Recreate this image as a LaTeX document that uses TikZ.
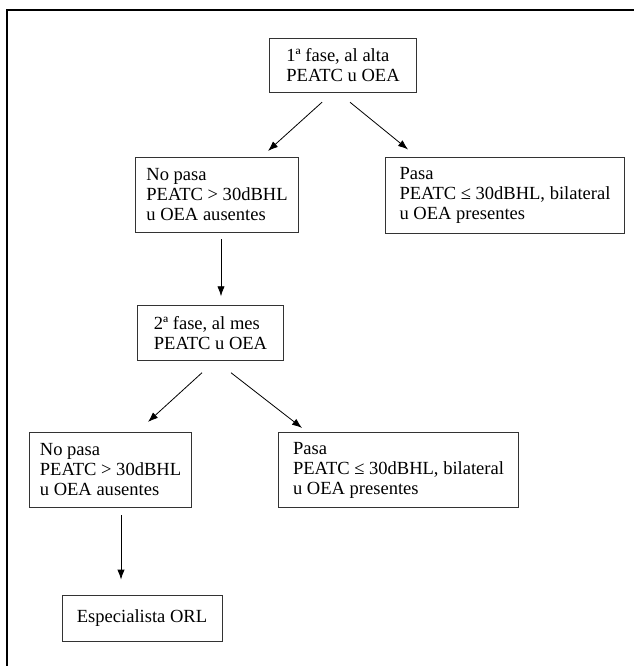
\documentclass[tikz,border=0pt]{standalone}
\usepackage{fontspec}
\setmainfont{Liberation Serif}
\usetikzlibrary{arrows.meta,calc}

\begin{document}
\begin{tikzpicture}[x=0.75pt, y=-0.75pt,
    caja/.style={draw=black!80, line width=0.6pt, align=left, inner sep=0pt,
                 font=\fontsize{13.9pt}{15pt}\selectfont},
    cajafase/.style={caja, minimum width=110pt, minimum height=41pt},
    cajano/.style={caja, minimum width=122pt, minimum height=56.5pt},
    cajasi/.style={caja, minimum width=179.5pt, minimum height=56.5pt},
    flecha/.style={-{Latex[length=7.5pt,width=5.5pt]}, line width=0.6pt}]
    \useasboundingbox (0,0) rectangle (634,666);
    % Draw frame
    \draw [line width=1.1pt] (7,666) -- (7,10) -- (634,10);
    % Draw boxes
    \node (fase1) [cajafase] at (343,65.5) {1ª fase, al alta\\PEATC u OEA};
    \node (nopasa1) [cajano] at (217,195) {No pasa\\PEATC > 30dBHL\\u OEA ausentes};
    \node (pasa1) [cajasi] at (505,195.5) {Pasa\\PEATC ≤ 30dBHL, bilateral\\u OEA presentes};
    \node (fase2) [cajafase] at (210.5,333) {2ª fase, al mes\\PEATC u OEA};
    \node (nopasa2) [cajano] at (110.5,470) {No pasa\\PEATC > 30dBHL\\u OEA ausentes};
    \node (pasa2) [cajasi] at (398.5,470) {Pasa\\PEATC ≤ 30dBHL, bilateral\\u OEA presentes};
    \node (orl) [caja, minimum width=120pt, minimum height=34.5pt] at (142,618) {Especialista ORL};
    % Draw arrows
    \draw [flecha] ($(fase1.south)+(-21,9)$) -- ($(nopasa1.north)+(51,-6)$); % 1a fase, no pasa
    \draw [flecha] ($(fase1.south)+(7,9)$) -- ($(pasa1.north)+(-97,-8)$); % 1a fase, pasa
    \draw [flecha] ($(nopasa1.south)+(4,6)$) -- ($(fase2.north)+(10.5,-9)$);
    \draw [flecha] ($(fase2.south)+(-8.5,12)$) -- ($(nopasa2.north)+(37.5,-10)$); % 2a fase, no pasa
    \draw [flecha] ($(fase2.south)+(20.5,12)$) -- ($(pasa2.north)+(-96.5,-4)$); % 2a fase, pasa
    \draw [flecha] ($(nopasa2.south)+(10.5,7)$) -- ($(orl.north)+(-21,-15)$);
\end{tikzpicture}
\end{document}
